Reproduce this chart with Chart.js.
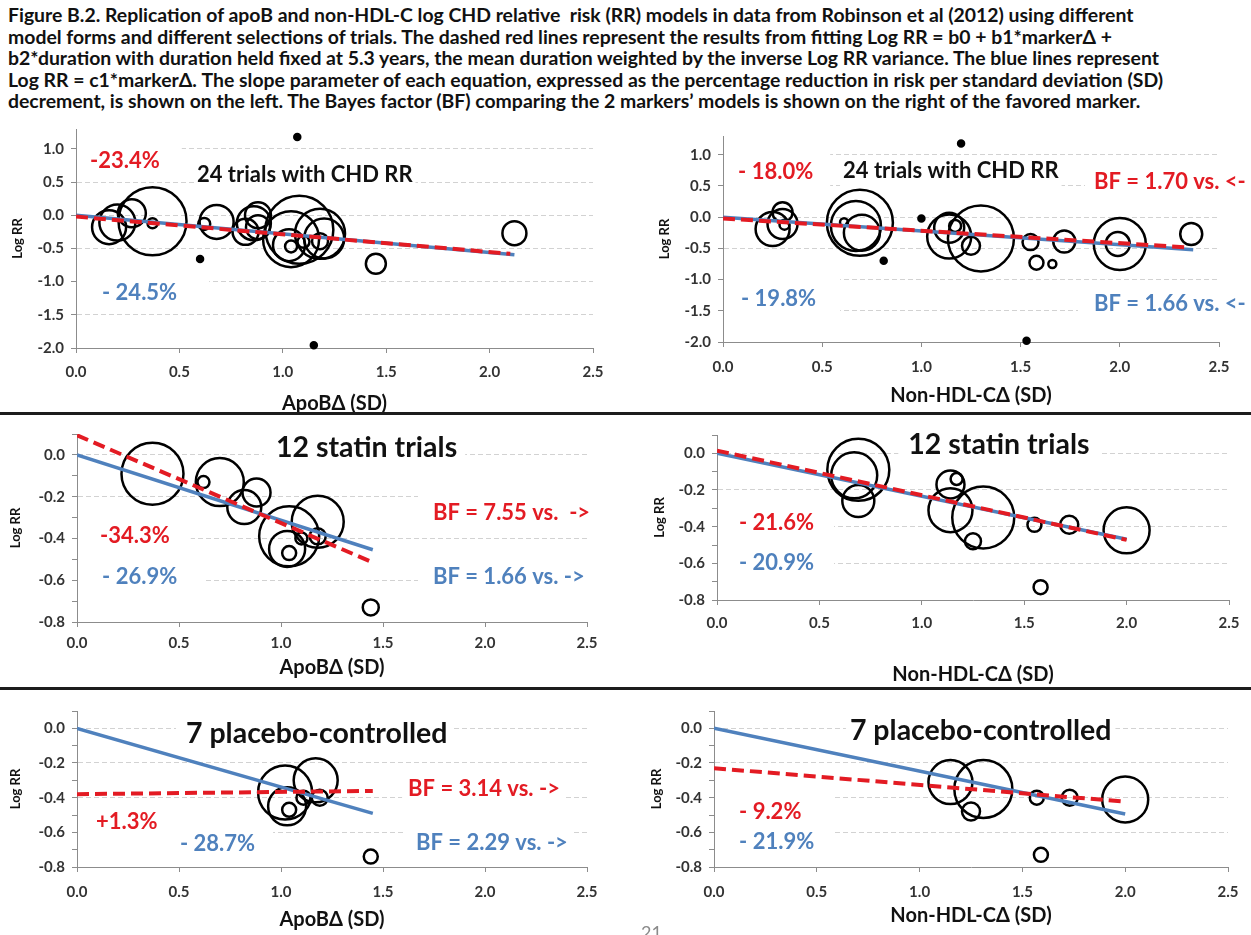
<!DOCTYPE html>
<html>
<head>
<meta charset="utf-8">
<script src="https://cdn.jsdelivr.net/npm/chart.js@4.4.0/dist/chart.umd.min.js"></script>
<style>
  body { margin: 0; background: #fff; width: 1251px; height: 935px; overflow: hidden; position: relative; font-family: Lato, sans-serif; }
  #caption { position: absolute; left: 8px; top: 4px; font-weight: bold; font-size: 19.4px; line-height: 21.6px; color: #111; white-space: pre; }
  .rule { position: absolute; left: 0; width: 1251px; height: 3px; background: #1c1c1c; z-index: 2; }
  canvas { position: absolute; }
  #page { position: absolute; left: 641px; top: 921px; color: #8a8a8a; font-size: 18px; }
</style>
</head>
<body>
<div id="caption">Figure B.2. Replication of apoB and non-HDL-C log CHD relative  risk (RR) models in data from Robinson et al (2012) using different
model forms and different selections of trials. The dashed red lines represent the results from fitting Log RR = b0 + b1*markerΔ +
b2*duration with duration held fixed at 5.3 years, the mean duration weighted by the inverse Log RR variance. The blue lines represent
Log RR = c1*markerΔ. The slope parameter of each equation, expressed as the percentage reduction in risk per standard deviation (SD)
decrement, is shown on the left. The Bayes factor (BF) comparing the 2 markers’ models is shown on the right of the favored marker.</div>
<div class="rule" style="top:412px"></div>
<div class="rule" style="top:687px"></div>
<canvas id="tl"></canvas>
<canvas id="tr"></canvas>
<canvas id="ml"></canvas>
<canvas id="mr"></canvas>
<canvas id="bl"></canvas>
<canvas id="br"></canvas>
<div id="page">21</div>
<script>
const RED = '#e31b23';
const BLUE = '#4f81bd';

const xTicks = [0, 0.5, 1, 1.5, 2, 2.5];
const yTicksWide = [-2, -1.5, -1, -0.5, 0, 0.5, 1];
const yGridWide = [-1.5, -1, -0.5, 0, 0.5, 1];
const yTicksNarrow = [-0.8, -0.7, -0.6, -0.5, -0.4, -0.3, -0.2, -0.1, 0, 0.1];
const yLabelsNarrow = [-0.8, -0.6, -0.4, -0.2, 0];
const yGridNarrow = [-0.6, -0.4, -0.2, 0];

// 24 trials with CHD RR, apoB difference (SD)
const apobAllX = [0.37, 0.62, 0.68, 0.88, 0.82, 1.04, 1.03, 1.04, 1.18, 1.10, 1.18, 1.45,
                  0.16, 0.20, 0.27, 0.37, 0.60, 0.86, 0.88, 1.08, 1.20, 1.07, 1.15, 2.12];
const apobAllY = [-0.09, -0.13, -0.10, -0.18, -0.25, -0.36, -0.45, -0.47, -0.28, -0.40, -0.39, -0.73,
                  -0.18, -0.11, 0.03, -0.12, -0.66, -0.12, 0.00, -0.22, -0.35, 1.18, -1.96, -0.27];
const apobAllR = [34, 6, 17, 12, 13, 28, 16, 6, 25, 6, 8, 10,
                  17, 18, 14, 5, 3, 17, 13, 34, 20, 3, 3, 12];

// 24 trials with CHD RR, non-HDL-C difference (SD)
const nonhdlAllX = [0.69, 0.67, 0.70, 1.14, 1.17, 1.14, 1.30, 1.25, 1.55, 1.72, 2.00, 1.58,
                    0.25, 0.30, 0.30, 0.31, 0.61, 0.81, 1.00, 1.20, 1.53, 1.66, 2.36, 1.99];
const nonhdlAllY = [-0.09, -0.14, -0.25, -0.17, -0.14, -0.31, -0.34, -0.46, -0.40, -0.39, -0.43, -0.73,
                    -0.19, -0.11, 0.08, -0.12, -0.08, -0.70, -0.02, 1.18, -1.98, -0.75, -0.27, -0.43];
const nonhdlAllR = [33, 25, 18, 15, 6, 22, 33, 9, 8, 11, 26, 7,
                    17, 15, 10, 5, 4, 3, 3, 3, 3, 4, 11, 12];

// 12 statin trials
const apobStatinX = [0.37, 0.62, 0.70, 0.88, 0.82, 1.04, 1.03, 1.04, 1.18, 1.10, 1.18, 1.44];
const apobStatinY = [-0.09, -0.13, -0.13, -0.18, -0.25, -0.39, -0.45, -0.47, -0.32, -0.40, -0.39, -0.73];
const apobStatinR = [31, 6, 24, 14, 17, 30, 18, 7, 26, 6, 8, 8];

const nonhdlStatinX = [0.69, 0.67, 0.69, 1.14, 1.17, 1.14, 1.30, 1.25, 1.55, 1.72, 2.00, 1.58];
const nonhdlStatinY = [-0.09, -0.12, -0.26, -0.17, -0.14, -0.31, -0.35, -0.48, -0.39, -0.39, -0.42, -0.73];
const nonhdlStatinR = [31, 23, 16, 14, 6, 22, 31, 8, 7, 9, 23, 7];

// 7 placebo-controlled trials
const apobPlaceboX = [1.02, 1.17, 1.03, 1.04, 1.11, 1.19, 1.44];
const apobPlaceboY = [-0.37, -0.30, -0.45, -0.47, -0.40, -0.40, -0.74];
const apobPlaceboR = [27, 22, 19, 7, 7, 8, 7];

const nonhdlPlaceboX = [1.15, 1.31, 1.25, 1.57, 1.73, 2.00, 1.59];
const nonhdlPlaceboY = [-0.31, -0.35, -0.48, -0.40, -0.40, -0.41, -0.73];
const nonhdlPlaceboR = [22, 29, 9, 7, 8, 23, 7];

// fitted lines: red = b0 + b1*marker (duration fixed), blue = c1*marker
const apobAllRedX = [0, 2.10],      apobAllRedY = [-0.02, -0.58];
const apobAllBlueX = [0, 2.12],     apobAllBlueY = [0, -0.596];
const nonhdlAllRedX = [0, 2.34],    nonhdlAllRedY = [-0.02, -0.484];
const nonhdlAllBlueX = [0, 2.37],   nonhdlAllBlueY = [0, -0.523];
const apobStatinRedX = [0, 1.45],   apobStatinRedY = [0.094, -0.515];
const apobStatinBlueX = [0, 1.45],  apobStatinBlueY = [0, -0.454];
const nonhdlStatinRedX = [0, 2.0],  nonhdlStatinRedY = [0.015, -0.472];
const nonhdlStatinBlueX = [0, 2.0], nonhdlStatinBlueY = [0, -0.469];
const apobPlaceboRedX = [0, 1.45],  apobPlaceboRedY = [-0.38, -0.361];
const apobPlaceboBlueX = [0, 1.45], apobPlaceboBlueY = [0, -0.4905];
const nonhdlPlaceboRedX = [0, 2.0], nonhdlPlaceboRedY = [-0.23, -0.423];
const nonhdlPlaceboBlueX = [0, 2.0], nonhdlPlaceboBlueY = [0, -0.494];

const zip = (xs, ys) => xs.map((v, i) => ({x: v, y: ys[i]}));
const zip3 = (xs, ys, rs) => xs.map((v, i) => ({x: v, y: ys[i], r: rs[i]}));

// text placed in data units, on a white box that hides the grid behind it
const textBoxes = (items) => ({
  id: 'textBoxes',
  beforeDatasetsDraw(chart) {
    const {ctx, chartArea, scales: {x, y}} = chart;
    const placed = items.map(n => {
      ctx.font = `bold ${n.size}px Lato`;
      return {n, w: ctx.measureText(n.text).width, px: x.getPixelForValue(n.x), py: y.getPixelForValue(n.y)};
    });
    ctx.save();
    ctx.fillStyle = '#fff';
    placed.forEach(({n, w, px, py}) => {
      const [pl, pr, pt, pb] = n.pad;
      const bx = Math.max(px - pl, chartArea.left + 1);
      ctx.fillRect(bx, py - n.size / 2 - pt, px + w + pr - bx, n.size + pt + pb);
    });
    ctx.textBaseline = 'middle';
    placed.forEach(({n, px, py}) => {
      ctx.font = `bold ${n.size}px Lato`;
      ctx.fillStyle = n.color;
      ctx.fillText(n.text, px, py);
    });
    ctx.restore();
  }
});

const panels = [
  {id: 'tl', left: 0, top: 112, width: 625, bottom: 416, plot: {l: 76, t: 129, r: 593, b: 348},
   yMin: -2, yMax: 1.3, yTicks: yTicksWide, yLabels: yTicksWide, yGrid: yGridWide,
   xPad: 10, yTitlePad: 10, xTitle: 'ApoBΔ (SD)',
   bubbles: zip3(apobAllX, apobAllY, apobAllR), red: zip(apobAllRedX, apobAllRedY), blue: zip(apobAllBlueX, apobAllBlueY),
   notes: [
     {text: '-23.4%', x: 0.068, y: 0.814, color: RED, size: 22, pad: [14, 22, 8, 4]},
     {text: '24 trials with CHD RR', x: 0.585, y: 0.603, color: '#111', size: 22, pad: [2, 3, 4, 6]},
     {text: '- 24.5%', x: 0.126, y: -1.176, color: BLUE, size: 22, pad: [26, 32, 6, 4]}
   ]},
  {id: 'tr', left: 640, top: 118, width: 611, bottom: 408, plot: {l: 723, t: 136, r: 1219, b: 342},
   yMin: -2, yMax: 1.3, yTicks: yTicksWide, yLabels: yTicksWide, yGrid: yGridWide,
   xPad: 11, yTitlePad: 17, xTitle: 'Non-HDL-CΔ (SD)',
   bubbles: zip3(nonhdlAllX, nonhdlAllY, nonhdlAllR), red: zip(nonhdlAllRedX, nonhdlAllRedY), blue: zip(nonhdlAllBlueX, nonhdlAllBlueY),
   notes: [
     {text: '- 18.0%', x: 0.076, y: 0.722, color: RED, size: 22, pad: [15, 17, 10, 4]},
     {text: '24 trials with CHD RR', x: 0.605, y: 0.738, color: '#111', size: 22, pad: [3, 3, 4, 6]},
     {text: 'BF = 1.70 vs. <-', x: 1.87, y: 0.562, color: RED, size: 22, pad: [9, 10, 4, 6]},
     {text: '- 19.8%', x: 0.091, y: -1.316, color: BLUE, size: 22, pad: [18, 24, 12, 14]},
     {text: 'BF = 1.66 vs. <-', x: 1.87, y: -1.396, color: BLUE, size: 22, pad: [16, 10, 4, 8]}
   ]},
  {id: 'ml', left: 0, top: 418, width: 625, bottom: 680, plot: {l: 77, t: 433, r: 587, b: 622},
   yMin: -0.8, yMax: 0.1, yTicks: yTicksNarrow, yLabels: yLabelsNarrow, yGrid: yGridNarrow,
   xPad: 7, yTitlePad: 8, xTitle: 'ApoBΔ (SD)',
   bubbles: zip3(apobStatinX, apobStatinY, apobStatinR), red: zip(apobStatinRedX, apobStatinRedY), blue: zip(apobStatinBlueX, apobStatinBlueY),
   notes: [
     {text: '12 statin trials', x: 0.975, y: 0.033, color: '#111', size: 28.5, pad: [12, 8, 4, 8]},
     {text: 'BF = 7.55 vs.  ->', x: 1.745, y: -0.276, color: RED, size: 22, pad: [15, 4, 8, 4]},
     {text: '-34.3%', x: 0.113, y: -0.386, color: RED, size: 22, pad: [23, 21, 4, 6]},
     {text: '- 26.9%', x: 0.123, y: -0.586, color: BLUE, size: 22, pad: [25, 26, 4, 6]},
     {text: 'BF = 1.66 vs. ->', x: 1.745, y: -0.586, color: BLUE, size: 22, pad: [15, 6, 4, 6]}
   ]},
  {id: 'mr', left: 640, top: 418, width: 611, bottom: 687, plot: {l: 717, t: 435, r: 1229, b: 600},
   yMin: -0.8, yMax: 0.1, yTicks: yTicksNarrow, yLabels: yLabelsNarrow, yGrid: yGridNarrow,
   xPad: 9, yTitlePad: 12, xTitle: 'Non-HDL-CΔ (SD)',
   bubbles: zip3(nonhdlStatinX, nonhdlStatinY, nonhdlStatinR), red: zip(nonhdlStatinRedX, nonhdlStatinRedY), blue: zip(nonhdlStatinBlueX, nonhdlStatinBlueY),
   notes: [
     {text: '12 statin trials', x: 0.934, y: 0.044, color: '#111', size: 28.5, pad: [10, 10, 4, 8]},
     {text: '- 21.6%', x: 0.107, y: -0.381, color: RED, size: 22, pad: [22, 20, 4, 6]},
     {text: '- 20.9%', x: 0.107, y: -0.599, color: BLUE, size: 22, pad: [22, 20, 4, 6]}
   ]},
  {id: 'bl', left: 0, top: 694, width: 625, bottom: 932, plot: {l: 77, t: 711, r: 587, b: 867},
   yMin: -0.8, yMax: 0.1, yTicks: yTicksNarrow, yLabels: yLabelsNarrow, yGrid: yGridNarrow,
   xPad: 11, yTitlePad: 8, xTitle: 'ApoBΔ (SD)',
   bubbles: zip3(apobPlaceboX, apobPlaceboY, apobPlaceboR), red: zip(apobPlaceboRedX, apobPlaceboRedY), blue: zip(apobPlaceboBlueX, apobPlaceboBlueY),
   notes: [
     {text: '7 placebo-controlled', x: 0.534, y: -0.029, color: '#111', size: 28.5, pad: [10, 4, 4, 6]},
     {text: 'BF = 3.14 vs. ->', x: 1.623, y: -0.351, color: RED, size: 22, pad: [6, 6, 4, 10]},
     {text: '+1.3%', x: 0.093, y: -0.541, color: RED, size: 22, pad: [19, 18, 4, 12]},
     {text: '- 28.7%', x: 0.505, y: -0.668, color: BLUE, size: 22, pad: [103, 18, 14, 4]},
     {text: 'BF = 2.29 vs. ->', x: 1.662, y: -0.662, color: BLUE, size: 22, pad: [12, 6, 14, 4]}
   ]},
  {id: 'br', left: 640, top: 694, width: 611, bottom: 928, plot: {l: 714, t: 711, r: 1228, b: 867},
   yMin: -0.8, yMax: 0.1, yTicks: yTicksNarrow, yLabels: yLabelsNarrow, yGrid: yGridNarrow,
   xPad: 11, yTitlePad: 9, xTitle: 'Non-HDL-CΔ (SD)',
   bubbles: zip3(nonhdlPlaceboX, nonhdlPlaceboY, nonhdlPlaceboR), red: zip(nonhdlPlaceboRedX, nonhdlPlaceboRedY), blue: zip(nonhdlPlaceboBlueX, nonhdlPlaceboBlueY),
   notes: [
     {text: '7 placebo-controlled', x: 0.661, y: -0.012, color: '#111', size: 28.5, pad: [4, 4, 4, 6]},
     {text: '- 9.2%', x: 0.122, y: -0.483, color: RED, size: 22, pad: [25, 33, 17, 4]},
     {text: '- 21.9%', x: 0.122, y: -0.656, color: BLUE, size: 22, pad: [25, 20, 14, 4]}
   ]}
];

const tickFont = {family: 'Lato', size: 15, weight: 'bold'};

const buildPanel = (p) => {
  const el = document.getElementById(p.id);
  el.width = p.width;
  el.height = p.bottom - p.top;
  el.style.left = p.left + 'px';
  el.style.top = p.top + 'px';
  const yAxisWidth = p.plot.l - p.left;
  const xAxisHeight = p.bottom - p.plot.b;

  new Chart(el, {
    type: 'bubble',
    data: {
      datasets: [
        {data: p.red, type: 'line', borderColor: RED, borderWidth: 4, borderDash: [12, 6],
         borderCapStyle: 'butt', pointRadius: 0, fill: false, tension: 0, order: 0},
        {data: p.blue, type: 'line', borderColor: BLUE, borderWidth: 3.5,
         borderCapStyle: 'butt', pointRadius: 0, fill: false, tension: 0, order: 1},
        {data: p.bubbles, borderColor: '#000', borderWidth: 2.5,
         backgroundColor: c => (c.raw && c.raw.r <= 3) ? '#000' : 'rgba(0,0,0,0)',
         clip: false, order: 2}
      ]
    },
    options: {
      responsive: false,
      animation: false,
      devicePixelRatio: 1,
      layout: {autoPadding: false,
               padding: {top: p.plot.t - p.top, right: p.left + p.width - p.plot.r, left: 0, bottom: 0}},
      plugins: {legend: {display: false}, tooltip: {enabled: false}},
      scales: {
        x: {
          type: 'linear', min: 0, max: 2.5,
          afterBuildTicks: s => { s.ticks = xTicks.map(v => ({value: v})); },
          afterFit: s => { s.height = xAxisHeight; },
          ticks: {font: tickFont, color: '#333', padding: p.xPad, maxRotation: 0, autoSkip: false,
                  callback: v => v.toFixed(1)},
          grid: {drawOnChartArea: false, drawTicks: true, tickLength: 5, tickColor: '#8c8c8c'},
          border: {color: '#8c8c8c', width: 1},
          title: {display: true, text: p.xTitle, color: '#111',
                  font: {family: 'Lato', size: 20, weight: 'bold'}, padding: {top: 0, bottom: 0}}
        },
        y: {
          type: 'linear', min: p.yMin, max: p.yMax,
          afterBuildTicks: s => { s.ticks = p.yTicks.map(v => ({value: v})); },
          afterFit: s => { s.width = yAxisWidth; },
          ticks: {font: tickFont, color: '#333', padding: 7, autoSkip: false,
                  callback: v => p.yLabels.includes(v) ? v.toFixed(1) : ''},
          grid: {drawOnChartArea: true, drawTicks: true, tickLength: 5, tickColor: '#8c8c8c',
                 color: c => (c.tick && p.yGrid.includes(c.tick.value)) ? '#d2d2d2' : 'rgba(0,0,0,0)'},
          border: {color: '#8c8c8c', width: 1, dash: [5, 3]},
          title: {display: true, text: 'Log RR', color: '#111',
                  font: {family: 'Lato', size: 13, weight: 'bold'}, padding: {top: p.yTitlePad, bottom: 0}}
        }
      }
    },
    plugins: [textBoxes(p.notes)]
  });
};

panels.forEach(buildPanel);
</script>
</body>
</html>
